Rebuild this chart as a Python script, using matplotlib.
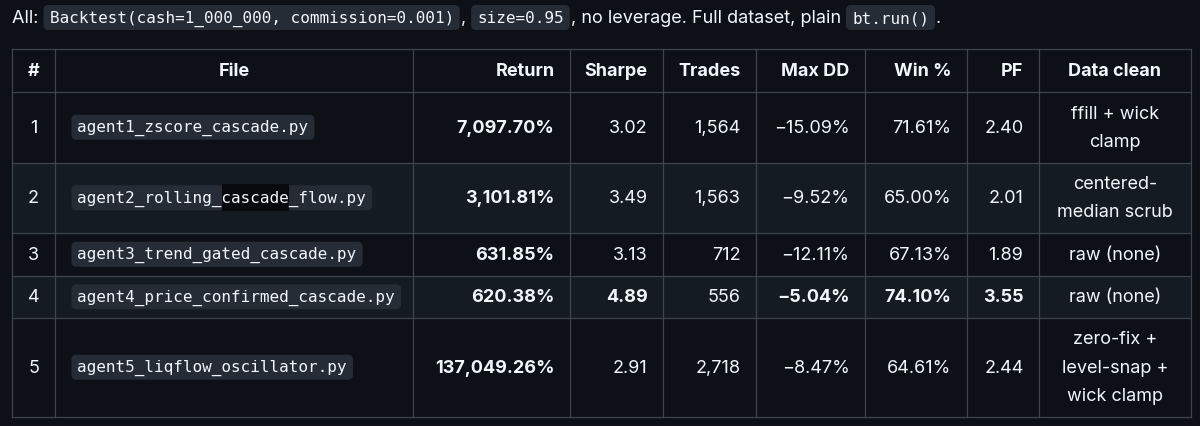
"""Backtest results table, GitHub dark markdown style."""
import matplotlib
matplotlib.use("Agg")
import matplotlib.pyplot as plt
from matplotlib.patches import FancyBboxPatch, Rectangle

BG = "#0d1117"; ALT = "#151b23"; LINE = "#3d444d"; FG = "#f0f6fc"
CODE_BG = "#262c36"; HIL = "#07090c"
SANS = ["Inter", "DejaVu Sans"]
MONO = ["DejaVu Sans Mono"]
FS = 13.0    # body text (pt)
MFS = 11.5   # inline code (pt)

# --- data ---
COLS = ["#", "File", "Return", "Sharpe", "Trades", "Max DD", "Win %", "PF", "Data clean"]
FILES = ["agent1_zscore_cascade.py", "agent2_rolling_cascade_flow.py",
         "agent3_trend_gated_cascade.py", "agent4_price_confirmed_cascade.py",
         "agent5_liqflow_oscillator.py"]
RETURN = [7097.70, 3101.81, 631.85, 620.38, 137049.26]
SHARPE = [3.02, 3.49, 3.13, 4.89, 2.91]
TRADES = [1564, 1563, 712, 556, 2718]
MAXDD = [-15.09, -9.52, -12.11, -5.04, -8.47]
WIN = [71.61, 65.00, 67.13, 74.10, 64.61]
PF = [2.40, 2.01, 1.89, 3.55, 2.44]
CLEAN = ["ffill + wick\nclamp", "centered-\nmedian scrub", "raw (none)", "raw (none)",
         "zero-fix +\nlevel-snap +\nwick clamp"]
INTRO = [("All: ", False), ("Backtest(cash=1_000_000, commission=0.001)", True), (", ", False),
         ("size=0.95", True), (", no leverage. Full dataset, plain ", False),
         ("bt.run()", True), (".", False)]
HIGHLIGHT = (1, "cascade")   # row 2 has a selected word

def best(vals):
    return max(range(len(vals)), key=lambda i: vals[i])

# columns: values, formatter, bold mode
num_cols = [
    (RETURN, lambda v: f"{v:,.2f}%", "all"),
    (SHARPE, lambda v: f"{v:.2f}", "best"),
    (TRADES, lambda v: f"{v:,}", None),
    (MAXDD, lambda v: f"{v:.2f}%".replace("-", "\u2212"), "best"),
    (WIN, lambda v: f"{v:.2f}%", "best"),
    (PF, lambda v: f"{v:.2f}", "best"),
]

fig = plt.figure(figsize=(12, 4.27), dpi=100, facecolor=BG)
ax = fig.add_axes([0, 0, 1, 1]); ax.set_xlim(0, 1200); ax.set_ylim(427, 0); ax.axis("off")
fig.canvas.draw()
R = fig.canvas.get_renderer()

def adv(s, **kw):
    t1 = ax.text(0, -100, s + "|", **kw); t2 = ax.text(0, -100, "|", **kw)
    w = t1.get_window_extent(R).width - t2.get_window_extent(R).width
    t1.remove(); t2.remove()
    return w

def code(x, y, s, hl=None):
    kw = dict(fontsize=MFS, family=MONO)
    w = adv(s, **kw)
    ax.add_patch(FancyBboxPatch((x + 3, y - 9.5), w + 6, 19, boxstyle="round,pad=3,rounding_size=5",
                                fc=CODE_BG, ec="none", zorder=2))
    if hl:
        cw = w / len(s); i = s.index(hl)
        ax.add_patch(Rectangle((x + 6 + cw * i, y - 13.5), cw * len(hl), 27, fc=HIL, ec="none", zorder=3))
    ax.text(x + 6, y, s, color=FG, va="center", ha="left", zorder=4, **kw)
    return w + 12

# --- intro line ---
x, y = 12, 18.5
for s, is_code in INTRO:
    if is_code:
        x += code(x, y, s) + 1
    else:
        ax.text(x, y, s, color=FG, fontsize=FS, family=SANS, va="center", ha="left")
        x += adv(s, fontsize=FS, family=SANS)

# --- table geometry ---
EDGES = [12, 55, 413, 570, 663, 756, 865, 967, 1039, 1191]
PAD = 15.5
top = 50
heights = [43] + [14.5 + 28 * c.count("\n") + 28 for c in CLEAN]
ys = [top]
for h in heights:
    ys.append(ys[-1] + h)

for i in range(len(heights)):
    fc = ALT if i in (2, 4) else BG
    ax.add_patch(Rectangle((EDGES[0], ys[i]), EDGES[-1] - EDGES[0], heights[i], fc=fc, ec="none", zorder=0))
for yy in ys:
    ax.plot([EDGES[0], EDGES[-1]], [yy, yy], color=LINE, lw=0.9, zorder=1)
for xx in EDGES:
    ax.plot([xx, xx], [ys[0], ys[-1]], color=LINE, lw=0.9, zorder=1)

def cell_text(col, yc, s, bold=False, align="right"):
    l, r = EDGES[col], EDGES[col + 1]
    if align == "right":
        xx, ha = r - PAD, "right"
    elif align == "center":
        xx, ha = (l + r) / 2, "center"
    else:
        xx, ha = l + PAD, "left"
    ax.text(xx, yc, s, color=FG, fontsize=FS, family=SANS, ha=ha, va="center",
            fontweight="bold" if bold else "normal", linespacing=1.87, multialignment="center", zorder=4)

# header
hy = (ys[0] + ys[1]) / 2
for c, name in enumerate(COLS):
    align = "center" if c in (0, 1, 8) else "right"
    cell_text(c, hy, name, bold=True, align=align)

# rows
bests = [best(v) if mode == "best" else None for v, _, mode in num_cols]
for i in range(len(FILES)):
    yc = (ys[i + 1] + ys[i + 2]) / 2
    cell_text(0, yc, str(i + 1), align="center")
    code(EDGES[1] + 16.5, yc, FILES[i], hl=HIGHLIGHT[1] if i == HIGHLIGHT[0] else None)
    for k, (vals, fmt, mode) in enumerate(num_cols):
        bold = mode == "all" or (mode == "best" and bests[k] == i)
        cell_text(2 + k, yc, fmt(vals[i]), bold=bold)
    cell_text(8, yc, CLEAN[i], align="center")

fig.savefig("out.png", dpi=100, facecolor=BG)
